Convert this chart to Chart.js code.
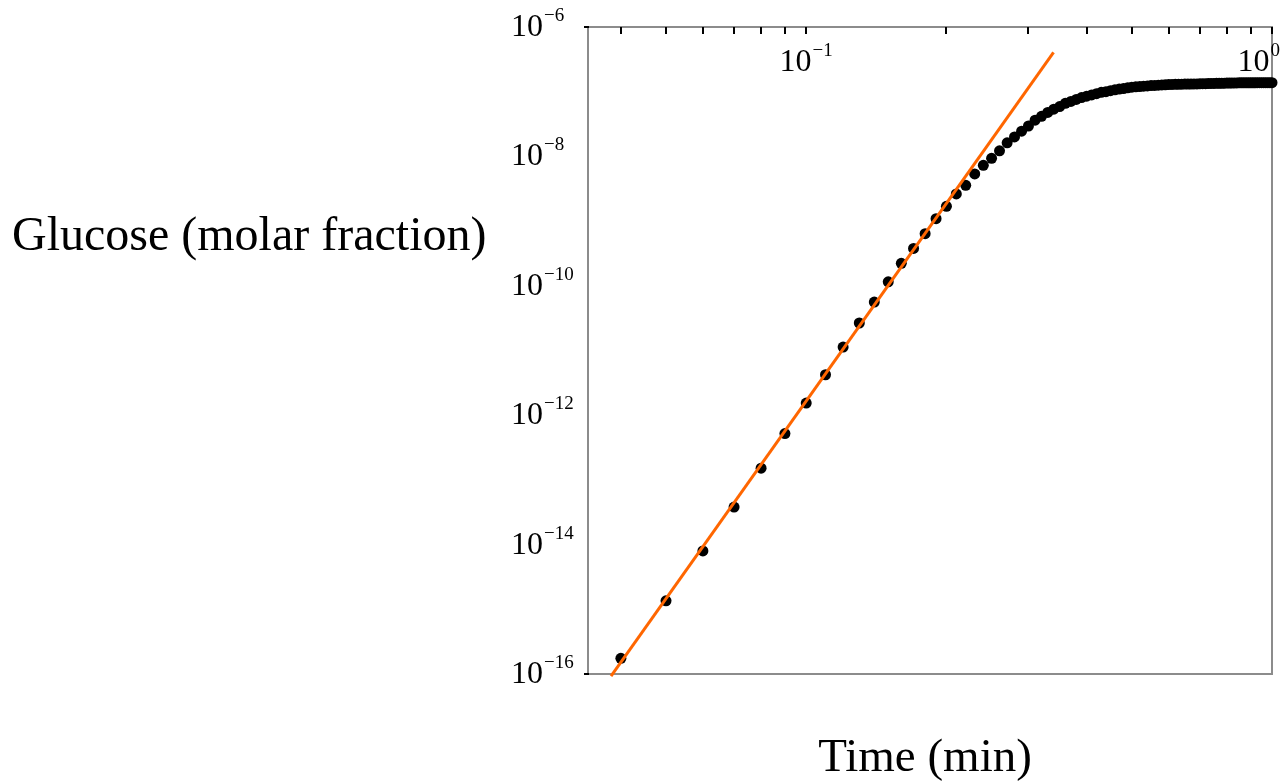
<!DOCTYPE html>
<html><head><meta charset="utf-8">
<script src="https://cdn.jsdelivr.net/npm/chart.js@4.4.0/dist/chart.umd.min.js"></script>
<style>html,body{margin:0;padding:0;background:#fff;overflow:hidden}canvas{display:block}</style>
</head><body>
<canvas id="c" width="1284" height="783"></canvas>
<script>
const times = [0.04,0.05,0.06,0.07,0.08,0.09,0.10,0.11,0.12,0.13,0.14,0.15,0.16,0.17,0.18,0.19,
0.20,0.21,0.22,0.23,0.24,0.25,0.26,0.27,0.28,0.29,0.30,0.31,0.32,0.33,0.34,0.35,0.36,0.37,0.38,0.39,
0.40,0.41,0.42,0.43,0.44,0.45,0.46,0.47,0.48,0.49,0.50,0.51,0.52,0.53,0.54,0.55,0.56,0.57,0.58,0.59,
0.60,0.61,0.62,0.63,0.64,0.65,0.66,0.67,0.68,0.69,0.70,0.71,0.72,0.73,0.74,0.75,0.76,0.77,0.78,0.79,
0.80,0.81,0.82,0.83,0.84,0.85,0.86,0.87,0.88,0.89,0.90,0.91,0.92,0.93,0.94,0.95,0.96,0.97,0.98,0.99,1.00];
const glucose = [
1.75e-16,1.35e-15,7.98e-15,3.80e-14,1.52e-13,5.21e-13,
1.54e-12,4.22e-12,1.13e-11,2.66e-11,5.61e-11,1.15e-10,2.23e-10,3.78e-10,6.40e-10,1.09e-9,
1.69e-9,2.63e-9,3.57e-9,5.36e-9,7.28e-9,9.35e-9,1.22e-8,1.62e-8,2.00e-8,2.45e-8,
2.95e-8,3.63e-8,4.17e-8,4.79e-8,5.37e-8,5.89e-8,6.61e-8,7.08e-8,7.59e-8,8.13e-8,
8.51e-8,8.91e-8,9.33e-8,9.77e-8,1.00e-7,1.035e-7,1.07e-7,1.10e-7,1.12e-7,1.15e-7,
1.175e-7,1.19e-7,1.20e-7,1.215e-7,1.23e-7,1.245e-7,1.25e-7,1.26e-7,1.27e-7,1.28e-7,
1.29e-7,1.295e-7,1.30e-7,1.30e-7,1.305e-7,1.31e-7,1.31e-7,1.315e-7,1.32e-7,1.32e-7,
1.325e-7,1.33e-7,1.33e-7,1.335e-7,1.34e-7,1.34e-7,1.345e-7,1.35e-7,1.35e-7,1.355e-7,
1.36e-7,1.36e-7,1.36e-7,1.365e-7,1.365e-7,1.37e-7,1.37e-7,1.37e-7,1.37e-7,1.375e-7,
1.375e-7,1.375e-7,1.375e-7,1.38e-7,1.38e-7,1.38e-7,1.38e-7,1.38e-7,1.38e-7,1.38e-7,1.38e-7];
const fitTimes = [0.0381, 0.3396];
const fitGlucose = [9.3e-17, 4.07e-7];
const xTickValues = [0.04,0.05,0.06,0.07,0.08,0.09,0.1,0.2,0.3,0.4,0.5,0.6,0.7,0.8,0.9,1];
const xLabelValues = [0.1, 1];
const xLabelExponents = ['\u22121', '0'];
const yLabelValues = [1e-6, 1e-8, 1e-10, 1e-12, 1e-14, 1e-16];
const yLabelExponents = ['\u22126', '\u22128', '\u221210', '\u221212', '\u221214', '\u221216'];
const xTitle = 'Time (min)';
const yTitle = 'Glucose (molar fraction)';

const SERIF = "'Liberation Serif','Times New Roman',serif";

function drawPow(ctx, base, exp, x, baseline, align, clampRight) {
  ctx.font = '32px ' + SERIF;
  const wb = ctx.measureText(base).width;
  ctx.font = '19px ' + SERIF;
  const we = ctx.measureText(exp).width;
  const total = wb + 1 + we;
  let left = align === 'center' ? x - total / 2 : x;
  if (clampRight !== undefined && left + total > clampRight) left = clampRight - total;
  ctx.fillStyle = '#000';
  ctx.textAlign = 'left';
  ctx.textBaseline = 'alphabetic';
  ctx.font = '32px ' + SERIF;
  ctx.fillText(base, left, baseline);
  ctx.font = '19px ' + SERIF;
  ctx.fillText(exp, left + wb + 1, baseline - 15);
}

const decor = {
  id: 'decor',
  beforeDatasetsDraw(chart) {
    const {ctx, chartArea: a, scales: {x, y}} = chart;
    ctx.save();
    ctx.strokeStyle = '#8c8c8c';
    ctx.lineWidth = 2;
    ctx.strokeRect(a.left, a.top, a.right - a.left, a.bottom - a.top);
    ctx.strokeStyle = '#000';
    ctx.lineWidth = 2;
    ctx.beginPath();
    x.ticks.forEach(t => {
      const px = Math.round(x.getPixelForValue(t.value));
      ctx.moveTo(px, a.top);
      ctx.lineTo(px, a.top + 7);
    });
    ctx.moveTo(a.left - 4, y.getPixelForValue(y.max));
    ctx.lineTo(a.left + 1, y.getPixelForValue(y.max));
    ctx.moveTo(a.left - 4, y.getPixelForValue(y.min));
    ctx.lineTo(a.left + 1, y.getPixelForValue(y.min));
    ctx.stroke();
    ctx.restore();
  },
  afterDraw(chart) {
    const {ctx, chartArea: a, scales: {x, y}} = chart;
    ctx.save();
    xLabelValues.forEach((v, i) => {
      drawPow(ctx, '10', xLabelExponents[i], x.getPixelForValue(v), a.top + 44, 'center', a.right + 8);
    });
    yLabelValues.forEach((v, i) => {
      drawPow(ctx, '10', yLabelExponents[i], a.left - 77, y.getPixelForValue(v) + 9, 'left');
    });
    ctx.fillStyle = '#000';
    ctx.textBaseline = 'alphabetic';
    ctx.textAlign = 'left';
    ctx.font = '48px ' + SERIF;
    ctx.fillText(yTitle, 12, 250);
    ctx.textAlign = 'center';
    ctx.font = '47px ' + SERIF;
    ctx.fillText(xTitle, 925, 771);
    ctx.restore();
  }
};

new Chart(document.getElementById('c'), {
  type: 'scatter',
  data: {
    datasets: [
      {
        label: 'fit',
        data: fitTimes.map((t, i) => ({x: t, y: fitGlucose[i]})),
        showLine: true,
        borderColor: '#ff6600',
        backgroundColor: '#ff6600',
        borderWidth: 3,
        pointRadius: 0,
        fill: false,
        order: 0,
        clip: false
      },
      {
        label: 'Glucose',
        data: times.map((t, i) => ({x: t, y: glucose[i]})),
        showLine: false,
        pointRadius: 5.5,
        pointBackgroundColor: '#000',
        pointBorderColor: '#000',
        pointBorderWidth: 0,
        order: 1,
        clip: false
      }
    ]
  },
  options: {
    responsive: false,
    animation: false,
    events: [],
    layout: {padding: {left: 588, right: 12, top: 27, bottom: 109}},
    plugins: {legend: {display: false}, tooltip: {enabled: false}},
    scales: {
      x: {
        type: 'logarithmic', position: 'top', min: 0.034, max: 1,
        grid: {display: false}, border: {display: false}, ticks: {display: false},
        afterBuildTicks: s => { s.ticks = xTickValues.map(v => ({value: v})); },
        afterFit: s => { s.height = 0; }
      },
      y: {
        type: 'logarithmic', position: 'left', min: 1e-16, max: 1e-6,
        grid: {display: false}, border: {display: false}, ticks: {display: false},
        afterBuildTicks: s => { s.ticks = yLabelValues.map(v => ({value: v})); },
        afterFit: s => { s.width = 0; }
      }
    }
  },
  plugins: [decor]
});
</script>
</body></html>
